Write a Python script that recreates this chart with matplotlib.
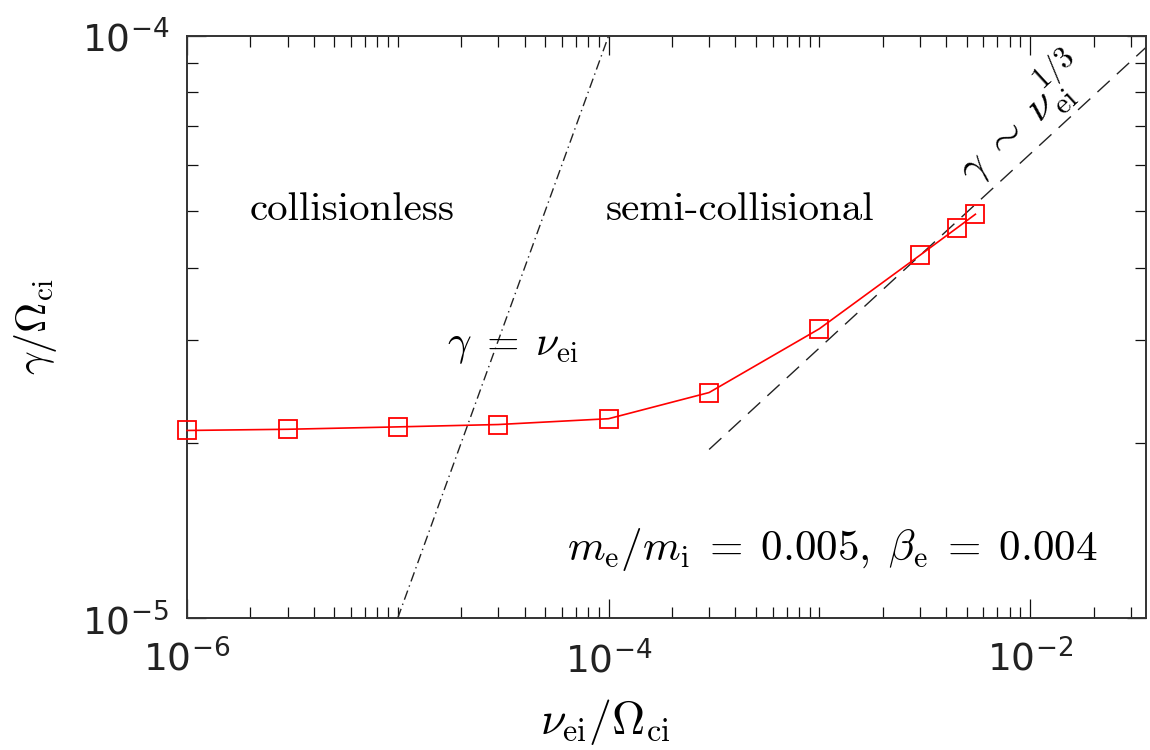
import numpy as np
import matplotlib
matplotlib.use("Agg")
import matplotlib.pyplot as plt
from matplotlib.ticker import LogLocator, NullFormatter

# growth rate vs collision frequency
nu_ei = [1e-6, 3e-6, 1e-5, 3e-5, 1e-4, 3e-4, 1e-3, 3e-3, 4.5e-3, 5.5e-3]
gamma = [2.10e-5, 2.11e-5, 2.13e-5, 2.15e-5, 2.20e-5, 2.44e-5, 3.14e-5, 4.20e-5, 4.68e-5, 4.94e-5]

# reference lines
nu_equal = [1e-5, 1e-4]                 # gamma = nu_ei
nu_third = [3e-4, 3.6e-2]               # gamma ~ nu_ei^(1/3)
c_third = 2.91e-4

plt.rcParams['font.family'] = 'DejaVu Sans'
plt.rcParams['mathtext.fontset'] = 'cm'

fig = plt.figure(figsize=(11.5, 7.5), dpi=100)
ax = fig.add_axes([0.1626, 0.176, 0.834, 0.776])

ax.plot(nu_ei, gamma, color='red', lw=1.2, marker='s', ms=12.5,
        mfc='none', mec='red', mew=1.3, zorder=3, clip_on=False)

ax.plot(nu_equal, nu_equal, color='#222222', lw=1.0, dashes=(7, 3, 1, 3))
nt = np.array(nu_third)
ax.plot(nt, c_third * nt ** (1 / 3), color='#222222', lw=1.0, dashes=(12, 7))

ax.set_xscale('log')
ax.set_yscale('log')
ax.set_xlim(1e-6, 3.55e-2)
ax.set_ylim(1e-5, 1e-4)

ax.xaxis.set_major_locator(LogLocator(base=100))
ax.xaxis.set_minor_locator(LogLocator(base=10, subs=np.arange(1, 10), numticks=20))
ax.xaxis.set_minor_formatter(NullFormatter())
ax.yaxis.set_major_locator(LogLocator(base=10))
ax.yaxis.set_minor_locator(LogLocator(base=10, subs=np.arange(2, 10), numticks=20))
ax.yaxis.set_minor_formatter(NullFormatter())

ax.tick_params(which='both', direction='in', top=True, right=True,
               color='#111111', width=0.9)
ax.tick_params(which='major', length=14, labelsize=27, labelcolor='#222222')
ax.tick_params(which='minor', length=8)
ax.tick_params(axis='x', which='major', pad=16)
ax.tick_params(axis='y', which='major', pad=13)
for s in ax.spines.values():
    s.set_linewidth(1.4)
    s.set_color('#333333')

ax.set_xlabel(r'$\nu_{\rm ei}/\Omega_{\rm ci}$', fontsize=33)
ax.set_ylabel(r'$\gamma/\Omega_{\rm ci}$', fontsize=30)
ax.xaxis.set_label_coords(0.436, -0.136)
ax.yaxis.set_label_coords(-0.133, 0.5)

ax.text(0.172, 0.701, 'collisionless', fontfamily='cmr10', fontsize=29.5,
        ha='center', va='center', transform=ax.transAxes)
ax.text(0.577, 0.701, 'semi-collisional', fontfamily='cmr10', fontsize=29.5,
        ha='center', va='center', transform=ax.transAxes)
ax.text(0.340, 0.469, r'$\gamma\;=\;\nu_{\rm ei}$', fontsize=30,
        ha='center', va='center', transform=ax.transAxes)
ax.text(0.673, 0.117,
        r'$m_{\rm e}/m_{\rm i}\;=\;0.005,\;\beta_{\rm e}\;=\;0.004$',
        fontsize=31, ha='center', va='center', transform=ax.transAxes)
ax.text(0.870, 0.858, r'$\gamma\;\sim\;\nu_{\rm ei}^{1/3}$', fontsize=31,
        rotation=42.6, rotation_mode='anchor', ha='center', va='center',
        transform=ax.transAxes)

fig.savefig('out.png', dpi=100)
